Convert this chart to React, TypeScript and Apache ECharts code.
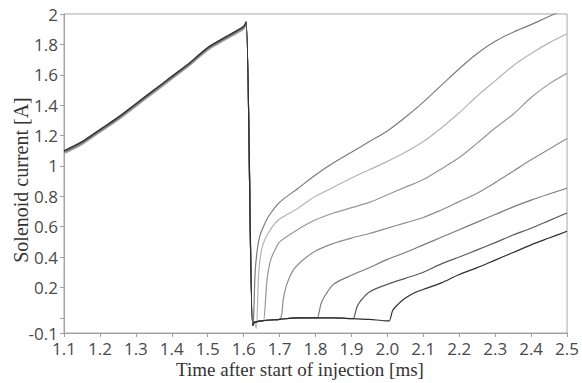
import React, { useEffect, useRef } from "react";
import * as echarts from "echarts";

// Shared ramp-up phase (time [ms], current [A])
const riseX = [1.1, 1.15, 1.2, 1.25, 1.3, 1.35, 1.4, 1.45, 1.5, 1.55, 1.6, 1.607];
const riseY = [1.1, 1.16, 1.24, 1.32, 1.41, 1.5, 1.59, 1.68, 1.78, 1.85, 1.92, 1.95];

// Current drop and flat holding baseline
const baseX = [1.625, 1.63, 1.65, 1.7, 1.75, 1.8, 1.85, 1.9, 1.95, 2.0, 2.005];
const baseY = [-0.05, -0.03, -0.02, -0.01, 0.0, 0.0, 0.0, -0.005, -0.01, -0.02, -0.02];

// Recovery branch for each of the 7 traces (starts where it leaves the baseline)
const c1X = [1.627, 1.632, 1.638, 1.645, 1.655, 1.67, 1.7, 1.75, 1.8, 1.85, 1.9, 1.95, 2.0, 2.05, 2.1, 2.15, 2.2, 2.25, 2.3, 2.35, 2.4, 2.46, 2.5];
const c1Y = [-0.04, 0.3, 0.45, 0.54, 0.6, 0.67, 0.76, 0.85, 0.94, 1.02, 1.09, 1.16, 1.23, 1.32, 1.42, 1.53, 1.64, 1.74, 1.82, 1.88, 1.93, 1.995, 2.03];
const c2X = [1.635, 1.642, 1.65, 1.66, 1.68, 1.7, 1.75, 1.8, 1.85, 1.9, 1.95, 2.0, 2.05, 2.1, 2.15, 2.2, 2.25, 2.3, 2.35, 2.4, 2.45, 2.5];
const c2Y = [-0.07, 0.3, 0.45, 0.52, 0.6, 0.65, 0.72, 0.8, 0.86, 0.92, 0.975, 1.03, 1.09, 1.16, 1.25, 1.35, 1.46, 1.56, 1.66, 1.74, 1.81, 1.87];
const c3X = [1.655, 1.665, 1.675, 1.69, 1.7, 1.75, 1.8, 1.85, 1.9, 1.95, 2.0, 2.05, 2.1, 2.15, 2.2, 2.25, 2.3, 2.35, 2.4, 2.45, 2.5];
const c3Y = [-0.02, 0.25, 0.38, 0.46, 0.5, 0.58, 0.645, 0.69, 0.725, 0.76, 0.81, 0.86, 0.91, 0.98, 1.055, 1.15, 1.25, 1.34, 1.45, 1.54, 1.61];
const c4X = [1.7, 1.71, 1.72, 1.74, 1.77, 1.8, 1.85, 1.9, 1.95, 2.0, 2.05, 2.1, 2.15, 2.2, 2.25, 2.3, 2.35, 2.4, 2.45, 2.5];
const c4Y = [-0.01, 0.12, 0.22, 0.32, 0.39, 0.44, 0.49, 0.525, 0.555, 0.59, 0.625, 0.66, 0.71, 0.765, 0.82, 0.89, 0.965, 1.04, 1.11, 1.18];
const c5X = [1.805, 1.815, 1.825, 1.85, 1.9, 1.95, 2.0, 2.05, 2.1, 2.15, 2.2, 2.25, 2.3, 2.35, 2.4, 2.45, 2.5];
const c5Y = [0.0, 0.09, 0.14, 0.22, 0.28, 0.33, 0.385, 0.43, 0.48, 0.53, 0.58, 0.63, 0.68, 0.73, 0.775, 0.815, 0.853];
const c6X = [1.905, 1.915, 1.925, 1.95, 2.0, 2.05, 2.1, 2.15, 2.2, 2.25, 2.3, 2.35, 2.4, 2.45, 2.5];
const c6Y = [-0.005, 0.07, 0.11, 0.17, 0.22, 0.26, 0.3, 0.355, 0.4, 0.447, 0.495, 0.545, 0.59, 0.64, 0.69];
const c7X = [2.005, 2.015, 2.03, 2.05, 2.08, 2.11, 2.15, 2.2, 2.25, 2.3, 2.35, 2.4, 2.45, 2.5];
const c7Y = [-0.02, 0.05, 0.09, 0.13, 0.17, 0.195, 0.23, 0.285, 0.33, 0.38, 0.43, 0.48, 0.525, 0.57];

const riseOffset = [-0.012, -0.02, -0.015, -0.01, -0.008, -0.004, 0];
const traceColors = ["#7c7c7c", "#b4b4b4", "#969696", "#8c8c8c", "#7a7a7a", "#5a5a5a", "#2e2e2e"];

const xTicks = [1.1, 1.2, 1.3, 1.4, 1.5, 1.6, 1.7, 1.8, 1.9, 2.0, 2.1, 2.2, 2.3, 2.4, 2.5];
const yTicks = [-0.1, 0, 0.2, 0.4, 0.6, 0.8, 1, 1.2, 1.4, 1.6, 1.8, 2];
const yLabels = [-0.1, 0.2, 0.4, 0.6, 0.8, 1, 1.2, 1.4, 1.6, 1.8, 2];

const branches: [number[], number[]][] = [
  [c1X, c1Y], [c2X, c2Y], [c3X, c3Y], [c4X, c4Y], [c5X, c5Y], [c6X, c6Y], [c7X, c7Y],
];

function buildTrace(i: number): number[][] {
  const pts: number[][] = [];
  riseX.forEach((x, k) => pts.push([x, riseY[k] + riseOffset[i]]));
  const [bx, by] = branches[i];
  const start = bx[0];
  baseX.forEach((x, k) => { if (x < start) pts.push([x, baseY[k]]); });
  bx.forEach((x, k) => pts.push([x, by[k]]));
  return pts;
}

export default function App() {
  const ref = useRef<HTMLDivElement>(null);
  useEffect(() => {
    document.body.style.margin = "0";
    if (!ref.current) return;
    const chart = echarts.init(ref.current, undefined, { renderer: "svg" });
    const tickFont = { fontFamily: "Open Sans", fontSize: 17, color: "#4a4a4a" };
    chart.setOption({
      animation: false,
      backgroundColor: "#fff",
      grid: { left: 64, top: 14, right: 11, bottom: 50, show: true, borderColor: "#a8a8a8", borderWidth: 1 },
      xAxis: {
        type: "value", min: 1.1, max: 2.5,
        axisLine: { onZero: false, lineStyle: { color: "#a0a0a0" } },
        axisTick: { show: true, length: 4, customValues: xTicks, lineStyle: { color: "#a0a0a0" } },
        axisLabel: { ...tickFont, margin: 7, customValues: xTicks, formatter: (v: number) => v.toFixed(1) },
        splitLine: { show: false },
      },
      yAxis: {
        type: "value", min: -0.1, max: 2,
        axisLine: { show: true, onZero: false, lineStyle: { color: "#a0a0a0" } },
        axisTick: { show: true, length: 4, customValues: yTicks, lineStyle: { color: "#a0a0a0" } },
        axisLabel: { ...tickFont, margin: 6, customValues: yLabels, formatter: (v: number) => String(Math.round(v * 10) / 10) },
        splitLine: { show: false },
      },
      graphic: [
        { type: "text", x: 300, y: 369, style: { text: "Time after start of injection [ms]", font: "19px 'Liberation Serif'", fill: "#333", textAlign: "center", textVerticalAlign: "middle" } },
        { type: "text", x: 21, y: 180, rotation: Math.PI / 2, style: { text: "Solenoid current [A]", font: "20px 'Liberation Serif'", fill: "#333", textAlign: "center", textVerticalAlign: "middle" } },
      ],
      series: traceColors.map((c, i) => ({
        type: "line",
        data: buildTrace(i),
        showSymbol: false,
        symbol: "none",
        smooth: 0.3,
        clip: true,
        lineStyle: { color: c, width: 1.2 },
      })),
    });
    return () => chart.dispose();
  }, []);
  return <div ref={ref} style={{ width: 582, height: 383 }} />;
}
